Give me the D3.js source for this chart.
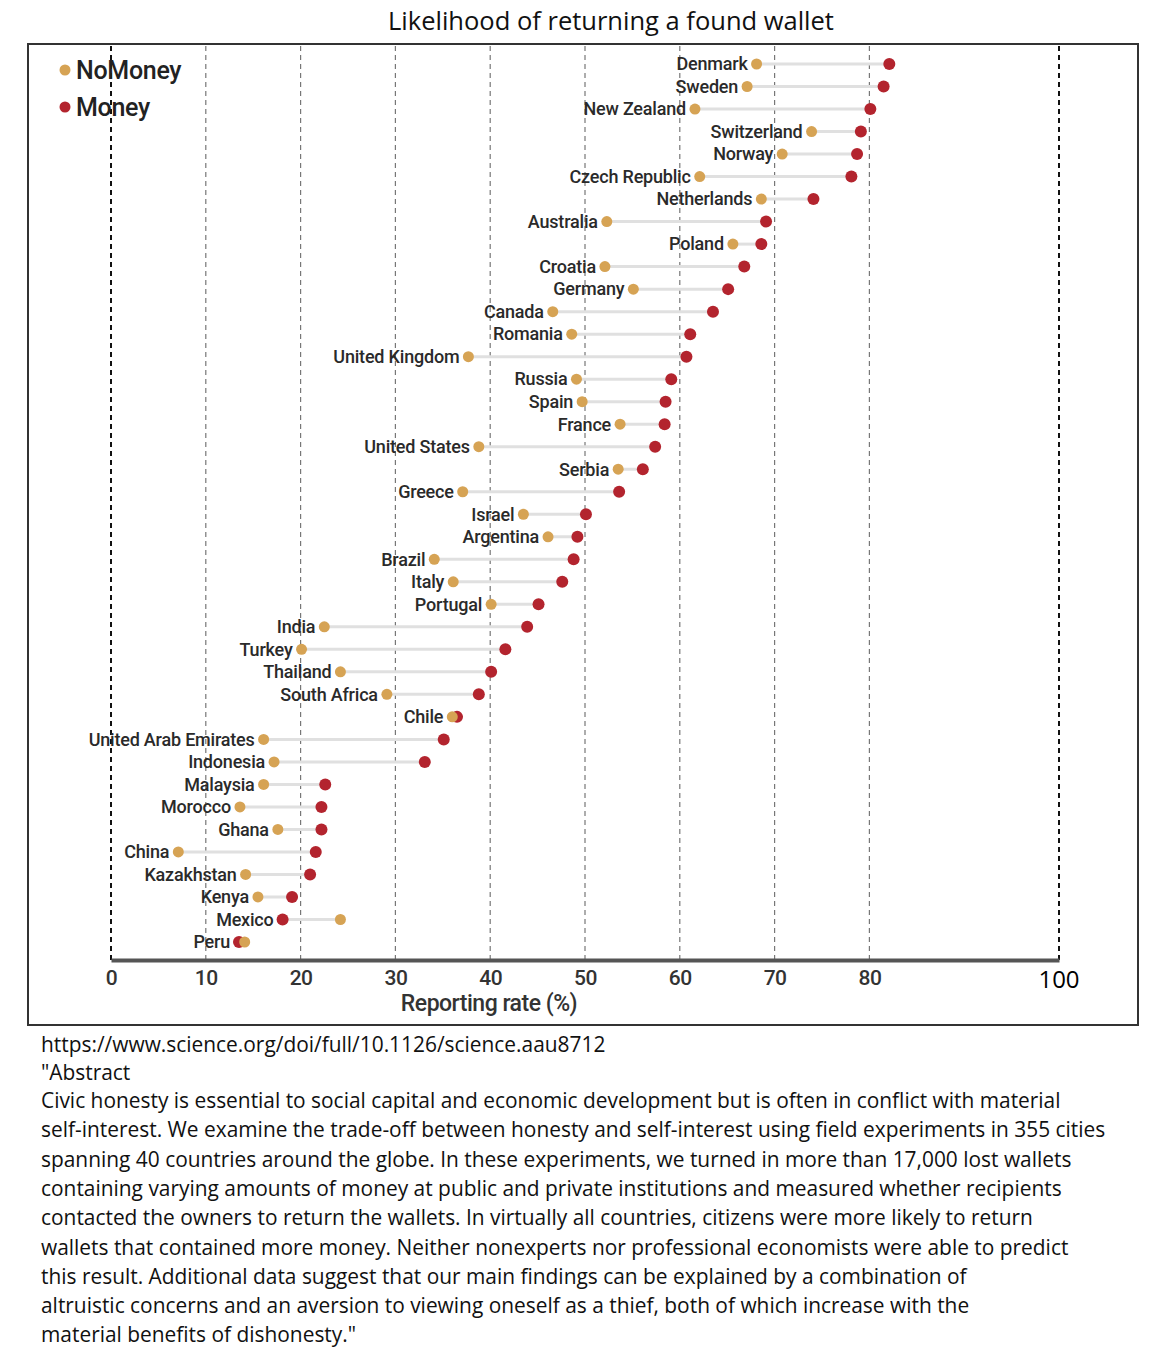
<!DOCTYPE html>
<html>
<head>
<meta charset="utf-8">
<script src="https://cdn.jsdelivr.net/npm/d3@7"></script>
<style>
  body { margin: 0; background: #fff; }
  svg { display: block; }
</style>
</head>
<body>
<svg id="chart"></svg>
<script>
// data (reporting rate %)
const countries = ["Denmark","Sweden","New Zealand","Switzerland","Norway","Czech Republic","Netherlands","Australia","Poland","Croatia","Germany","Canada","Romania","United Kingdom","Russia","Spain","France","United States","Serbia","Greece","Israel","Argentina","Brazil","Italy","Portugal","India","Turkey","Thailand","South Africa","Chile","United Arab Emirates","Indonesia","Malaysia","Morocco","Ghana","China","Kazakhstan","Kenya","Mexico","Peru"];
const noMoney = [68.1,67.1,61.6,73.9,70.8,62.1,68.6,52.3,65.6,52.1,55.1,46.6,48.6,37.7,49.1,49.7,53.7,38.8,53.5,37.1,43.5,46.1,34.1,36.1,40.1,22.5,20.1,24.2,29.1,36.0,16.1,17.2,16.1,13.6,17.6,7.1,14.2,15.5,24.2,14.1];
const money   = [82.1,81.5,80.1,79.1,78.7,78.1,74.1,69.1,68.6,66.8,65.1,63.5,61.1,60.7,59.1,58.5,58.4,57.4,56.1,53.6,50.1,49.2,48.8,47.6,45.1,43.9,41.6,40.1,38.8,36.5,35.1,33.1,22.6,22.2,22.2,21.6,21.0,19.1,18.1,13.5];
const gridValues = [0,10,20,30,40,50,60,70,80,100];
const tickLabels = [0,10,20,30,40,50,60,70,80];
const seriesNames = ["NoMoney","Money"];
const titleText = "Likelihood of returning a found wallet";
const sourceLines = [
  "https://www.science.org/doi/full/10.1126/science.aau8712",
  "\"Abstract",
  "Civic honesty is essential to social capital and economic development but is often in conflict with material",
  "self-interest. We examine the trade-off between honesty and self-interest using field experiments in 355 cities",
  "spanning 40 countries around the globe. In these experiments, we turned in more than 17,000 lost wallets",
  "containing varying amounts of money at public and private institutions and measured whether recipients",
  "contacted the owners to return the wallets. In virtually all countries, citizens were more likely to return",
  "wallets that contained more money. Neither nonexperts nor professional economists were able to predict",
  "this result. Additional data suggest that our main findings can be explained by a combination of",
  "altruistic concerns and an aversion to viewing oneself as a thief, both of which increase with the",
  "material benefits of dishonesty.\""
];

const width = 1176, height = 1350;
const colors = {NoMoney: "#d6a354", Money: "#b3242e"};
const labelFont = "'Roboto', sans-serif";
const bodyFont = "'Open Sans', 'Noto Sans', sans-serif";

const svg = d3.select("#chart").attr("width", width).attr("height", height);

const x = d3.scaleLinear().domain([0, 100]).range([111, 1059]);
const y = d3.scalePoint().domain(countries).range([64, 942]);

// title
svg.append("text")
  .attr("x", 611).attr("y", 30)
  .attr("text-anchor", "middle")
  .style("font-family", bodyFont).style("font-size", "25.5px").attr("fill", "#111")
  .text(titleText);

// frame
svg.append("rect")
  .attr("x", 28).attr("y", 44).attr("width", 1110).attr("height", 981)
  .attr("fill", "none").attr("stroke", "#333").attr("stroke-width", 2);

// gridlines
svg.append("g").selectAll("line").data(gridValues).join("line")
  .attr("x1", d => x(d)).attr("x2", d => x(d))
  .attr("y1", 46).attr("y2", 960)
  .attr("stroke", d => (d === 0 || d === 100) ? "#111" : "#777")
  .attr("stroke-width", d => (d === 0 || d === 100) ? 2 : 1.2)
  .attr("stroke-dasharray", "5,4");

// x axis
const axisG = svg.append("g").attr("transform", "translate(0,960)");
axisG.call(d3.axisBottom(x).tickValues(tickLabels).tickSize(0).tickPadding(10))
  .call(g => g.select(".domain").attr("stroke", "#555").attr("stroke-width", 4))
  .call(g => g.selectAll(".tick text")
    .style("font-family", labelFont).style("font-size", "21px")
    .style("font-weight", 500).style("letter-spacing", "-0.5px").attr("fill", "#333"));
axisG.append("text")
  .attr("x", x(100)).attr("y", 28)
  .attr("text-anchor", "middle")
  .style("font-family", bodyFont).style("font-size", "24px").attr("fill", "#000")
  .text("100");
axisG.append("text")
  .attr("x", x(50) - 96).attr("y", 51)
  .attr("text-anchor", "middle")
  .style("font-family", labelFont).style("font-size", "23px")
  .style("font-weight", 500).style("letter-spacing", "-0.5px").attr("fill", "#333")
  .text("Reporting rate (%)");

// dumbbells
const rows = countries.map((c, i) => ({country: c, NoMoney: noMoney[i], Money: money[i]}));
const rowG = svg.append("g").selectAll("g").data(rows).join("g");

rowG.append("line")
  .attr("x1", d => x(Math.min(d.NoMoney, d.Money)))
  .attr("x2", d => x(Math.max(d.NoMoney, d.Money)))
  .attr("y1", d => y(d.country)).attr("y2", d => y(d.country))
  .attr("stroke", "#e0e0e0").attr("stroke-width", 3);

rowG.append("circle")
  .attr("cx", d => x(d.Money)).attr("cy", d => y(d.country))
  .attr("r", 6).attr("fill", colors.Money);

rowG.append("circle")
  .attr("cx", d => x(d.NoMoney)).attr("cy", d => y(d.country))
  .attr("r", 5.5).attr("fill", colors.NoMoney);

rowG.append("text")
  .attr("x", d => x(Math.min(d.NoMoney, d.Money)) - 9)
  .attr("y", d => y(d.country))
  .attr("dy", "0.35em")
  .attr("text-anchor", "end")
  .style("font-family", labelFont).style("font-size", "18px")
  .style("font-weight", 500).style("letter-spacing", "-0.2px")
  .attr("fill", "#2a2a2a")
  .text(d => d.country);

// legend
const legend = svg.append("g").selectAll("g").data(seriesNames).join("g")
  .attr("transform", (d, i) => `translate(65,${70 + i * 37})`);
legend.append("circle").attr("r", 5.5).attr("fill", d => colors[d]);
legend.append("text")
  .attr("x", 11).attr("dy", "0.35em")
  .style("font-family", labelFont).style("font-size", "25px")
  .style("font-weight", 500).style("letter-spacing", "-0.3px").attr("fill", "#222")
  .text(d => d);

// source & abstract
svg.append("g").selectAll("text").data(sourceLines).join("text")
  .attr("x", 41)
  .attr("y", (d, i) => i < 2 ? 1052 + i * 28 : 1108 + (i - 2) * 29.3)
  .style("font-family", bodyFont).style("font-size", "20.9px").attr("fill", "#111")
  .text(d => d);
</script>
</body>
</html>
